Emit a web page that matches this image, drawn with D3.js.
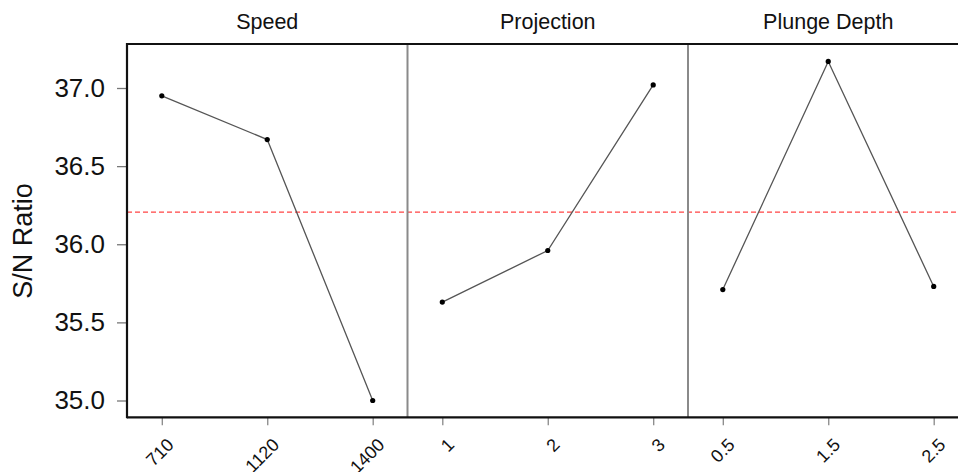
<!DOCTYPE html>
<html>
<head>
<meta charset="utf-8">
<script src="https://cdn.jsdelivr.net/npm/d3@7.9.0/dist/d3.min.js"></script>
<style>
  body { margin: 0; background: #fff; }
  svg { display: block; font-family: "Liberation Sans", Arial, sans-serif; }
</style>
</head>
<body>
<div id="chart"></div>
<script>
// main effects of S/N ratio per factor
const factors = ['Speed', 'Projection', 'Plunge Depth'];
const speedLevels = ['710', '1120', '1400'];
const speedSN = [36.95, 36.67, 35.00];
const projectionLevels = ['1', '2', '3'];
const projectionSN = [35.63, 35.96, 37.02];
const plungeLevels = ['0.5', '1.5', '2.5'];
const plungeSN = [35.71, 37.17, 35.73];
const meanSN = 36.205;
const yTicks = [35.0, 35.5, 36.0, 36.5, 37.0];

const panels = [
  { name: factors[0], levels: speedLevels, values: speedSN },
  { name: factors[1], levels: projectionLevels, values: projectionSN },
  { name: factors[2], levels: plungeLevels, values: plungeSN },
];

const width = 958;
const height = 472;
const margin = { top: 44, bottom: 55, left: 127 };
const panelW = 280.5;

const svg = d3.select('#chart').append('svg')
  .attr('width', width)
  .attr('height', height);

const panelScale = d3.scaleBand()
  .domain(factors)
  .range([margin.left, margin.left + panelW * factors.length]);

const yScale = d3.scaleLinear()
  .domain([35.0, 37.0])
  .range([400.5, 88]);

const bottom = height - margin.bottom + 0.3;

// red mean reference line
svg.append('line')
  .attr('x1', margin.left)
  .attr('x2', width)
  .attr('y1', yScale(meanSN))
  .attr('y2', yScale(meanSN))
  .attr('stroke', '#f44')
  .attr('stroke-width', 1.2)
  .attr('stroke-dasharray', '5,3');

// panel dividers
svg.append('g')
  .selectAll('line')
  .data(factors.slice(1))
  .join('line')
  .attr('x1', d => panelScale(d))
  .attr('x2', d => panelScale(d))
  .attr('y1', margin.top)
  .attr('y2', bottom)
  .attr('stroke', '#8a8a8a')
  .attr('stroke-width', 2);

// y axis
const yAxis = d3.axisLeft(yScale)
  .tickValues(yTicks)
  .tickFormat(d3.format('.1f'))
  .tickSize(10)
  .tickPadding(12);

const yg = svg.append('g')
  .attr('transform', `translate(${margin.left}, 0)`)
  .call(yAxis);
yg.select('.domain').remove();
yg.selectAll('.tick line').attr('stroke', '#777').attr('stroke-width', 1.3);
yg.selectAll('.tick text')
  .attr('font-size', 26)
  .attr('font-family', '"Liberation Sans", Arial, sans-serif')
  .attr('fill', '#111');

svg.append('text')
  .attr('transform', `translate(32, 241) rotate(-90)`)
  .attr('text-anchor', 'middle')
  .attr('font-size', 27)
  .attr('fill', '#111')
  .text('S/N Ratio');

panels.forEach(p => {
  const x0 = panelScale(p.name);
  const xScale = d3.scalePoint()
    .domain(p.levels)
    .range([x0, x0 + panelScale.bandwidth()])
    .padding(0.33);

  // panel title
  svg.append('text')
    .attr('x', x0 + panelScale.bandwidth() / 2)
    .attr('y', 29)
    .attr('text-anchor', 'middle')
    .attr('font-size', 21.5)
    .attr('fill', '#111')
    .text(p.name);

  // x ticks and rotated labels
  const xAxis = d3.axisBottom(xScale).tickSize(8).tickFormat('');
  const xg = svg.append('g')
    .attr('transform', `translate(0, ${bottom})`)
    .call(xAxis);
  xg.select('.domain').remove();
  xg.selectAll('.tick line').attr('stroke', '#888').attr('stroke-width', 1.3);

  svg.append('g')
    .selectAll('text')
    .data(p.levels)
    .join('text')
    .attr('transform', d => `translate(${xScale(d) + 13}, 446) rotate(-45)`)
    .attr('text-anchor', 'end')
    .attr('font-size', 18)
    .attr('fill', '#111')
    .text(d => d);

  const pts = p.levels.map((l, i) => [xScale(l), yScale(p.values[i])]);

  svg.append('path')
    .datum(pts)
    .attr('d', d3.line())
    .attr('fill', 'none')
    .attr('stroke', '#555')
    .attr('stroke-width', 1.3);

  svg.append('g')
    .selectAll('circle')
    .data(pts)
    .join('circle')
    .attr('cx', d => d[0])
    .attr('cy', d => d[1])
    .attr('r', 2.6)
    .attr('fill', '#000');
});

// frame: left, top, bottom
svg.append('line')
  .attr('x1', margin.left).attr('x2', margin.left)
  .attr('y1', margin.top - 1).attr('y2', bottom + 1)
  .attr('stroke', '#111').attr('stroke-width', 2.2);
svg.append('line')
  .attr('x1', margin.left).attr('x2', width)
  .attr('y1', margin.top).attr('y2', margin.top)
  .attr('stroke', '#111').attr('stroke-width', 2.2);
svg.append('line')
  .attr('x1', margin.left).attr('x2', width)
  .attr('y1', bottom).attr('y2', bottom)
  .attr('stroke', '#111').attr('stroke-width', 2.2);
</script>
</body>
</html>
